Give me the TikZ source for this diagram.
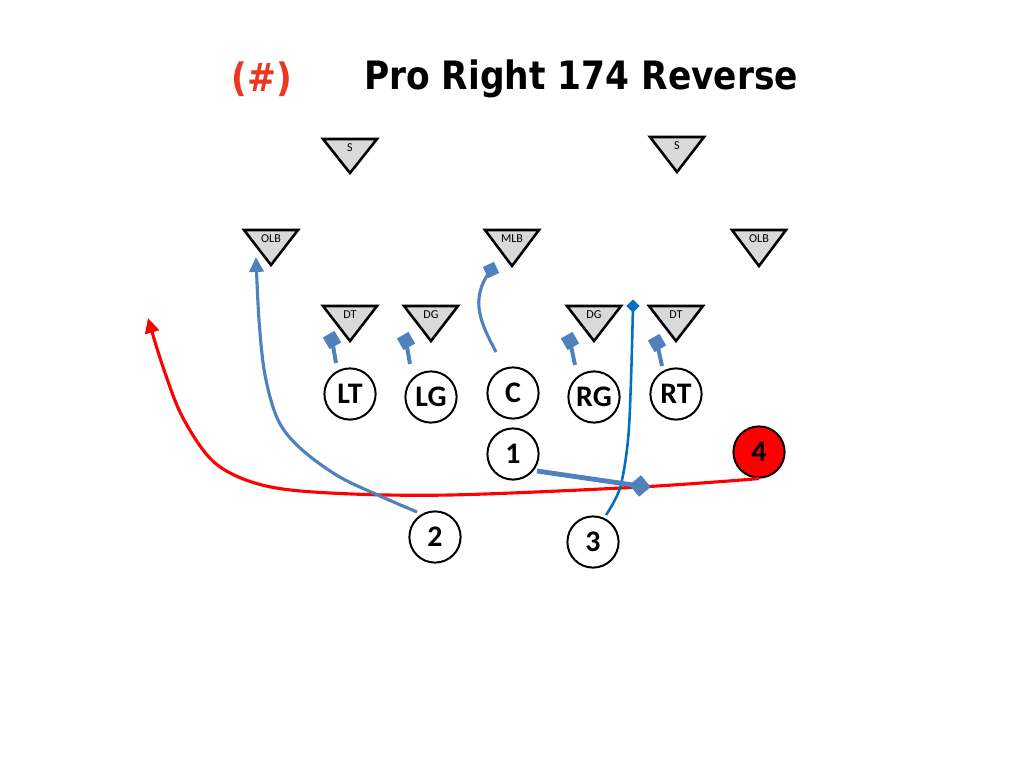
\documentclass[tikz,border=0pt]{standalone}
\usepackage{fontspec}
\setmainfont{Carlito}
\newfontfamily\titlefont[FakeStretch=0.88]{DejaVu Sans}
\usetikzlibrary{arrows.meta}
\definecolor{blk}{RGB}{79,129,189}
\definecolor{rte}{RGB}{0,112,192}
\definecolor{hashred}{RGB}{235,55,30}
\definecolor{trigray}{RGB}{217,217,217}
\definecolor{runred}{RGB}{255,0,0}
\newcommand\defender[5]{%
  \draw[deftri] (#2-27,#3) -- (#2+27,#3) -- (#2,#4) -- cycle;
  \node[deflabel] (#1) at (#2,#3+9) {#5};}
\begin{document}
\begin{tikzpicture}[x=0.703125pt,y=-0.703125pt,
  deftri/.style={fill=trigray,draw=black,line width=1.8pt,line join=miter},
  deflabel/.style={inner sep=0pt,font=\fontsize{8.5}{9}\selectfont},
  player/.style={circle,draw=black,line width=1.4pt,minimum size=36pt,inner sep=0pt,fill=white,font=\bfseries\fontsize{21}{21}\selectfont},
  stem/.style={draw=blk,line width=2.8pt},
  blocksq/.style={rectangle,fill=blk,inner sep=0pt,minimum size=9.4pt},
  route/.style={draw=blk,line width=2.2pt},
  titletext/.style={inner sep=0pt,font=\titlefont\bfseries\fontsize{27.5}{30}\selectfont}]
\useasboundingbox (0,0) rectangle (1024,768);

% title
\node[titletext,text=hashred] (hash) at (262,79) {(\#)};
\node[titletext] (title) at (581,79) {Pro Right 174 Reverse};

% defenders
\defender{SL}{350}{139}{173}{S}
\defender{SR}{677}{137}{172}{S}
\defender{OLBL}{271}{230}{265}{OLB}
\defender{MLB}{512}{230}{266}{MLB}
\defender{OLBR}{759}{230}{266}{OLB}
\defender{DTL}{350}{306}{341}{DT}
\defender{DGL}{431}{306}{341}{DG}
\defender{DGR}{594}{306}{341}{DG}
\defender{DTR}{676}{306}{341}{DT}

% offense
\node[player] (LT) at (350,394) {LT};
\node[player] (LG) at (431,397) {LG};
\node[player] (C)  at (513,393) {C};
\node[player] (RG) at (594,397) {RG};
\node[player] (RT) at (676,394) {RT};
\node[player] (P1) at (513,454) {1};
\node[player] (P2) at (435,537) {2};
\node[player] (P3) at (593,542) {3};
\node[player,fill=runred] (P4) at (759,452) {4};

% line blocks
\node[blocksq,rotate=30] (bLT) at (332,340) {};
\node[blocksq,rotate=30] (bLG) at (406,341) {};
\node[blocksq,rotate=30] (bRG) at (570,341) {};
\node[blocksq,rotate=30] (bRT) at (657,343) {};
\coordinate (sLT) at (336,363);
\coordinate (sLG) at (410,364);
\coordinate (sRG) at (575,365);
\coordinate (sRT) at (662,366);
\draw[stem] (sLT) -- (bLT.center);
\draw[stem] (sLG) -- (bLG.center);
\draw[stem] (sRG) -- (bRG.center);
\draw[stem] (sRT) -- (bRT.center);

% center to MLB
\coordinate (sC) at (496,352);
\node[blocksq,rotate=25,minimum size=8.6pt] (bC) at (491,270) {};
\draw[route] (sC) .. controls (482,325) and (468,300) .. (bC.center);

% 1 block
\coordinate (s1) at (537,471);
\node[blocksq,rotate=40,minimum size=10.5pt] (b1) at (640,486) {};

% 4 reverse run
\coordinate (r1) at (640,487);
\coordinate (r2) at (450,495);
\coordinate (r3) at (330,493);
\coordinate (r4) at (262,485);
\coordinate (r5) at (215,463);
\coordinate (r6) at (183,418);
\coordinate (r7) at (163,367);
\coordinate (r8) at (148,318);
\draw[draw=runred,line width=2.2pt,-{Triangle[width=10pt,length=10.5pt]}]
  plot[smooth,tension=0.55] coordinates {(P4.south) (r1) (r2) (r3) (r4) (r5) (r6) (r7) (r8)};

% 2 route
\coordinate (t0) at (417,512);
\coordinate (t1) at (380,496);
\coordinate (t2) at (338,476);
\coordinate (t3) at (300,448);
\coordinate (t4) at (278,420);
\coordinate (t5) at (265,375);
\coordinate (t6) at (259,320);
\coordinate (t7) at (256,257);
\draw[route,-{Triangle[width=10pt,length=10.5pt]}]
  plot[smooth,tension=0.55] coordinates {(t0) (t1) (t2) (t3) (t4) (t5) (t6) (t7)};

% 3 route
\coordinate (u0) at (606,515);
\coordinate (u1) at (620,488);
\coordinate (u2) at (628,440);
\coordinate (u3) at (631,380);
\node[rectangle,fill=rte,inner sep=0pt,minimum size=6.5pt,rotate=45] (b3) at (633,306) {};
\draw[draw=rte,line width=1.8pt]
  plot[smooth,tension=0.55] coordinates {(u0) (u1) (u2) (u3) (b3.center)};

\draw[draw=blk,line width=3.4pt] (s1) -- (b1.center);
\node[blocksq,rotate=40,minimum size=10.5pt] at (b1) {};
\end{tikzpicture}
\end{document}
